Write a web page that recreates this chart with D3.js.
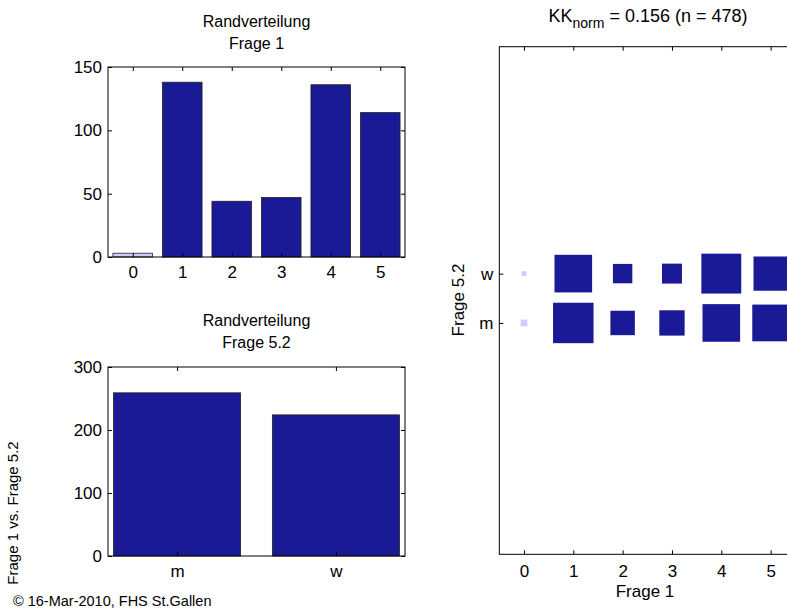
<!DOCTYPE html>
<html>
<head>
<meta charset="utf-8">
<script src="https://cdn.jsdelivr.net/npm/d3@7"></script>
<style>
    body { margin: 0; background: #fff; }
    svg text { font-family: Arial, "Liberation Sans", Helvetica, sans-serif; fill: #000; }
</style>
</head>
<body>
<svg id="chart"></svg>
<script>
// Randverteilung Frage 1 (0 = keine Antwort)
var frage1Cats = [0, 1, 2, 3, 4, 5];
var frage1Counts = [3, 138, 44, 47, 136, 114];

// Randverteilung Frage 5.2
var frage52Cats = ["m", "w"];
var frage52Counts = [259, 224];

// Kreuztabelle Frage 1 x Frage 5.2
var crossM = [2, 74, 27, 29, 64, 61];
var crossW = [1, 64, 17, 18, 72, 53];

var ticksTop = [0, 50, 100, 150];
var ticksBottom = [0, 100, 200, 300];
var titleKK = "0.156";
var titleN = 478;

var dark = "#1a1a96",
    light = "#cdcdff";

var svg = d3.select("#chart")
    .attr("width", 787)
    .attr("height", 609);

var fs = 16,
    tickFs = 17;

// draws a matlab style box with inward ticks
function frame(g, x, y, xt, yt, xfmt, pad) {
    var xr = x.range(), yr = y.range();
    g.append("g")
        .attr("transform", "translate(0," + yr[0] + ")")
        .call(d3.axisBottom(x).tickValues(xt).tickFormat(xfmt).tickSizeInner(-4).tickSizeOuter(0).tickPadding(pad))
        .call(function (a) { a.select(".domain").remove(); });
    g.append("g")
        .attr("transform", "translate(0," + yr[1] + ")")
        .call(d3.axisTop(x).tickValues(xt).tickFormat("").tickSizeInner(-4).tickSizeOuter(0))
        .call(function (a) { a.select(".domain").remove(); });
    g.append("g")
        .attr("transform", "translate(" + xr[0] + ",0)")
        .call(d3.axisLeft(y).tickValues(yt.v).tickFormat(yt.f).tickSizeInner(-4).tickSizeOuter(0).tickPadding(6))
        .call(function (a) { a.select(".domain").remove(); });
    g.append("g")
        .attr("transform", "translate(" + xr[1] + ",0)")
        .call(d3.axisRight(y).tickValues(yt.v).tickFormat("").tickSizeInner(-4).tickSizeOuter(0))
        .call(function (a) { a.select(".domain").remove(); });
    g.selectAll(".tick line").attr("stroke", "#000");
    g.selectAll(".tick text").style("font-size", tickFs + "px").style("font-family", "Arial, 'Liberation Sans', sans-serif");
    g.append("rect")
        .attr("x", xr[0]).attr("y", yr[1])
        .attr("width", xr[1] - xr[0]).attr("height", yr[0] - yr[1])
        .attr("fill", "none").attr("stroke", "#000").attr("stroke-width", 1);
}

function title2(cx, ytop, l1, l2) {
    svg.append("text").attr("x", cx).attr("y", ytop).attr("text-anchor", "middle")
        .style("font-size", fs + "px").text(l1);
    svg.append("text").attr("x", cx).attr("y", ytop + 22).attr("text-anchor", "middle")
        .style("font-size", fs + "px").text(l2);
}

// ---- oben links: Frage 1
var x1 = d3.scaleLinear().domain([-0.5, 5.5]).range([108, 405]);
var y1 = d3.scaleLinear().domain([0, 150]).range([257, 67]);
var g1 = svg.append("g");
g1.selectAll(".bar")
    .data(frage1Cats)
    .enter()
    .append("rect")
    .attr("class", "bar")
    .attr("x", function (d) { return x1(d - 0.4); })
    .attr("width", function (d) { return x1(d + 0.4) - x1(d - 0.4); })
    .attr("y", function (d, i) { return y1(frage1Counts[i]); })
    .attr("height", function (d, i) { return y1(0) - y1(frage1Counts[i]); })
    .attr("fill", function (d) { return d === 0 ? light : dark; })
    .attr("stroke", "#222")
    .attr("stroke-width", 0.8);
frame(g1, x1, y1, frage1Cats, { v: ticksTop, f: d3.format("d") }, d3.format("d"), 9);
title2(256.5, 27, "Randverteilung", "Frage 1");

// ---- unten links: Frage 5.2
var x2 = d3.scaleLinear().domain([0.565, 2.435]).range([108, 405]);
var y2 = d3.scaleLinear().domain([0, 300]).range([556, 367]);
var g2 = svg.append("g");
g2.selectAll(".bar")
    .data(frage52Cats)
    .enter()
    .append("rect")
    .attr("class", "bar")
    .attr("x", function (d, i) { return x2(i + 1 - 0.4); })
    .attr("width", function (d, i) { return x2(i + 1.4) - x2(i + 0.6); })
    .attr("y", function (d, i) { return y2(frage52Counts[i]); })
    .attr("height", function (d, i) { return y2(0) - y2(frage52Counts[i]); })
    .attr("fill", dark)
    .attr("stroke", "#222")
    .attr("stroke-width", 0.8);
frame(g2, x2, y2, [1, 2], { v: ticksBottom, f: d3.format("d") }, function (d) { return frage52Cats[d - 1]; }, 9);
title2(256.5, 326, "Randverteilung", "Frage 5.2");

// ---- rechts: Kreuztabelle
var x3 = d3.scaleLinear().domain([-0.5, 5.5]).range([499.3, 795.3]);
var y3 = d3.scaleLinear().domain([-3.69, 6.6]).range([554.3, 46.7]);
var side = d3.scaleSqrt().domain([0, d3.max(crossM.concat(crossW))]).range([0, 0.82]);
var unit = x3(1) - x3(0);

var cells = [];
frage1Cats.forEach(function (c, i) {
    cells.push({ x: c, y: 1, n: crossM[i] });
    cells.push({ x: c, y: 2, n: crossW[i] });
});

var g3 = svg.append("g");
g3.selectAll(".cell")
    .data(cells)
    .enter()
    .append("rect")
    .attr("class", "cell")
    .attr("x", function (d) { return x3(d.x) - side(d.n) * unit / 2; })
    .attr("y", function (d) { return y3(d.y) - side(d.n) * unit / 2; })
    .attr("width", function (d) { return side(d.n) * unit; })
    .attr("height", function (d) { return side(d.n) * unit; })
    .attr("fill", function (d) { return d.x === 0 ? light : dark; });
frame(g3, x3, y3, frage1Cats, { v: [1, 2], f: function (d) { return frage52Cats[d - 1]; } }, d3.format("d"), 11);

var t = svg.append("text")
    .attr("x", 648)
    .attr("y", 22)
    .attr("text-anchor", "middle")
    .style("font-size", "18px");
t.append("tspan").text("KK");
t.append("tspan").attr("dy", 6).style("font-size", "14px").text("norm");
t.append("tspan").attr("dy", -6).text(" = " + titleKK + " (n = " + titleN + ")");

svg.append("text")
    .attr("x", 645)
    .attr("y", 597)
    .attr("text-anchor", "middle")
    .style("font-size", "17px")
    .text("Frage 1");

svg.append("text")
    .attr("transform", "translate(464,300) rotate(-90)")
    .attr("text-anchor", "middle")
    .style("font-size", "17px")
    .text("Frage 5.2");

// ---- Fusszeile
svg.append("text")
    .attr("transform", "translate(18,513) rotate(-90)")
    .attr("text-anchor", "middle")
    .style("font-size", "15px")
    .text("Frage 1 vs. Frage 5.2");

svg.append("text")
    .attr("x", 13)
    .attr("y", 606)
    .style("font-size", "14.5px")
    .text("\u00a9 16-Mar-2010, FHS St.Gallen");
</script>
</body>
</html>
